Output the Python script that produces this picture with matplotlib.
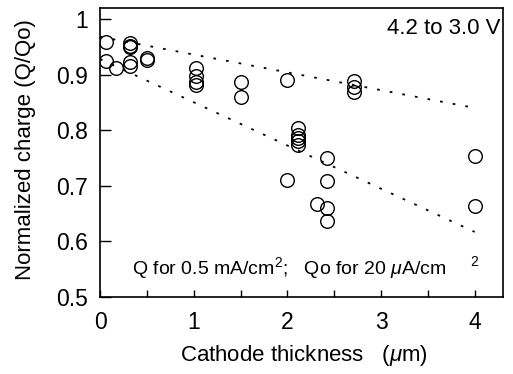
import matplotlib.pyplot as plt
from matplotlib.ticker import FixedLocator

plt.rcParams['font.family'] = ['Liberation Sans', 'DejaVu Sans']
plt.rcParams['mathtext.fontset'] = 'custom'
plt.rcParams['mathtext.it'] = 'Liberation Sans:italic'
plt.rcParams['mathtext.rm'] = 'Liberation Sans'

# data
thickness = [0.06, 0.06, 0.17, 0.32, 0.32, 0.32, 0.32, 0.32, 0.50, 0.50,
             1.02, 1.02, 1.02, 1.02, 1.51, 1.51, 2.00, 2.00,
             2.11, 2.11, 2.11, 2.11, 2.11,
             2.42, 2.42, 2.32, 2.42, 2.42,
             2.71, 2.71, 2.71, 4.00, 4.00]
ratio = [0.959, 0.925, 0.912, 0.956, 0.952, 0.949, 0.923, 0.916, 0.929, 0.926,
         0.911, 0.897, 0.887, 0.881, 0.887, 0.860, 0.890, 0.710,
         0.804, 0.792, 0.786, 0.780, 0.774,
         0.750, 0.708, 0.667, 0.660, 0.636,
         0.888, 0.877, 0.869, 0.753, 0.663]

# dotted guide lines
upper_x = [0.0, 4.0]
upper_y = [0.968, 0.840]
lower_x = [0.0, 4.0]
lower_y = [0.928, 0.617]

fig = plt.figure(figsize=(5.13, 3.74), dpi=100)
ax = fig.add_axes([0.195, 0.206, 0.785, 0.773])

dots = (0, (1.5, 5.6))
ax.plot(upper_x, upper_y, color='black', lw=1.3, linestyle=dots)
ax.plot(lower_x, lower_y, color='black', lw=1.3, linestyle=dots)
ax.plot(thickness, ratio, 'o', ms=9.8, mfc='none', mec='black', mew=1.0)

ax.set_xlim(0, 4.3)
ax.set_ylim(0.5, 1.02)

xt = [0, 0.5, 1, 1.5, 2, 2.5, 3, 3.5, 4]
ax.xaxis.set_major_locator(FixedLocator(xt))
ax.set_xticklabels(['0', '', '1', '', '2', '', '3', '', '4'])
yt = [0.5, 0.6, 0.7, 0.8, 0.9, 1.0]
ax.yaxis.set_major_locator(FixedLocator(yt))
ax.set_yticklabels(['0.5', '0.6', '0.7', '0.8', '0.9', '1'])

ax.tick_params(axis='x', direction='in', length=5, width=1, labelsize=16.5, pad=10)
ax.tick_params(axis='y', direction='in', length=8, width=1, labelsize=16.5, pad=9)
for s in ax.spines.values():
    s.set_linewidth(1.2)

# axis titles placed by hand like the scan
fig.text(304 / 513, 1 - 356 / 374, r'Cathode thickness   ($\mu$m)',
         ha='center', va='center', fontsize=16)
fig.text(26 / 513, 1 - 150 / 374, 'Normalized charge (Q/Qo)',
         rotation=90, ha='center', va='center', fontsize=16)

ax.text(0.995, 0.93, '4.2 to 3.0 V', transform=ax.transAxes,
        ha='right', va='center', fontsize=16)
ax.text(0.08, 0.1, r'Q for 0.5 mA/cm$^2$;   Qo for 20 $\mu$A/cm',
        transform=ax.transAxes, ha='left', va='center', fontsize=14)
ax.text(0.93, 0.122, '2', transform=ax.transAxes, ha='center',
        va='center', fontsize=10)

fig.savefig('out.png', dpi=100)
